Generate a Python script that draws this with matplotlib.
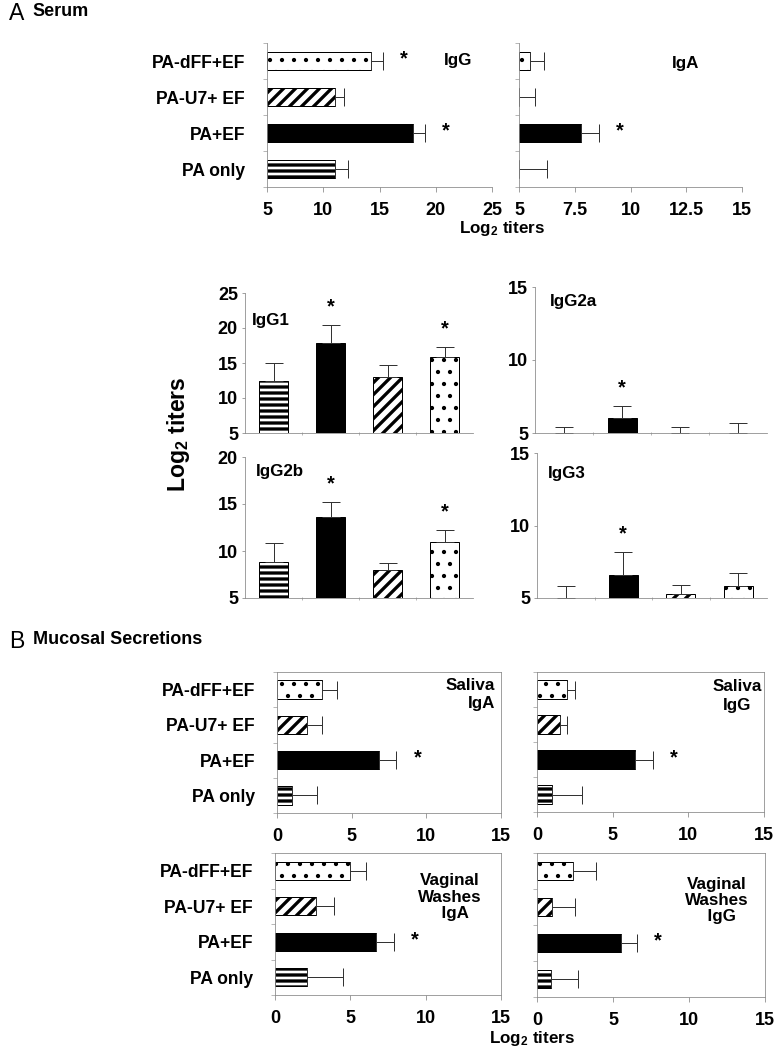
import numpy as np
import matplotlib.pyplot as plt

plt.rcParams['font.family'] = ['Liberation Sans', 'DejaVu Sans']
plt.rcParams['font.weight'] = 'bold'
plt.rcParams['mathtext.fontset'] = 'custom'
plt.rcParams['mathtext.rm'] = 'Liberation Sans:bold'
plt.rcParams['mathtext.default'] = 'rm'
plt.rcParams['hatch.linewidth'] = 3.0

groups = ['PA only', 'PA+EF', 'PA-U7+ EF', 'PA-dFF+EF']

# serum titers (log2), bar value and upper error
serum_igg = [11.0, 18.0, 11.0, 14.2]
serum_igg_err = [1.2, 1.0, 0.8, 1.1]
serum_iga = [5.0, 7.8, 5.0, 5.5]
serum_iga_err = [1.25, 0.8, 0.7, 0.6]

igg1 = [12.5, 17.9, 13.0, 15.9]
igg1_err = [2.5, 2.5, 1.7, 1.4]
igg2a = [5.0, 6.05, 5.0, 5.0]
igg2a_err = [0.4, 0.8, 0.4, 0.7]
igg2b = [8.8, 13.6, 7.95, 11.0]
igg2b_err = [2.1, 1.65, 0.8, 1.2]
igg3 = [5.0, 6.6, 5.3, 5.8]
igg3_err = [0.8, 1.6, 0.6, 0.9]

# mucosal secretions
saliva_iga = [1.0, 6.8, 2.0, 3.0]
saliva_iga_err = [1.7, 1.2, 1.0, 1.0]
saliva_igg = [1.0, 6.5, 1.5, 2.0]
saliva_igg_err = [2.0, 1.15, 0.5, 0.5]
vaginal_iga = [2.1, 6.7, 2.7, 5.0]
vaginal_iga_err = [2.4, 1.2, 1.2, 1.05]
vaginal_igg = [0.9, 5.5, 1.0, 2.4]
vaginal_igg_err = [1.8, 1.05, 1.5, 1.5]

# significance marks
sig_pa_ef = [0, 1, 0, 0]
sig_two = [0, 1, 0, 1]

fills = ['white', 'black', 'white', 'white']
hatches = ['--', '', '//', '.']
spine_col = '#8a8a8a'
err_col = '#333333'


def style_bars(bars):
    for b, fc, h in zip(bars, fills, hatches):
        b.set_facecolor(fc)
        b.set_hatch(h)
        if hasattr(b, 'set_hatch_linewidth'):
            b.set_hatch_linewidth(1.8 if h == '.' else 3.3)


def hpanel(ax, vals, errs, sig, base, top, ticks, ticklabels, show_names, box):
    y = np.arange(len(groups))
    vals = np.array(vals)
    bars = ax.barh(y, vals - base, left=base, height=0.52,
                   edgecolor='black', linewidth=1)
    style_bars(bars)
    ax.errorbar(vals, y, xerr=[np.zeros(4), errs], fmt='none', ecolor=err_col,
                elinewidth=1, capsize=9, capthick=1)
    for i in range(4):
        if sig[i]:
            ax.annotate('*', (vals[i] + errs[i], y[i]), xytext=(21, 2),
                        textcoords='offset points', ha='center', va='center',
                        fontsize=20)
    ax.set_xlim(base, top)
    ax.set_ylim(-0.5, 3.5)
    ax.set_xticks(ticks, ticklabels)
    ax.set_yticks(y, groups if show_names else [''] * 4)
    ax.set_yticks(np.arange(-0.5, 4, 1), minor=True)
    ax.tick_params(axis='y', which='major', length=0, pad=22, labelsize=17.5)
    ax.tick_params(axis='y', which='minor', length=4, color=spine_col)
    ax.tick_params(axis='x', length=5, color=spine_col, pad=10, labelsize=18)
    for s in ax.spines.values():
        s.set_color(spine_col)
    if not box:
        ax.spines['top'].set_visible(False)
        ax.spines['right'].set_visible(False)


def vpanel(ax, vals, errs, sig, base, top, ticks, label, lab_x, lab_y):
    x = np.arange(len(groups))
    vals = np.array(vals)
    bars = ax.bar(x, vals - base, bottom=base, width=0.5,
                  edgecolor='black', linewidth=1)
    style_bars(bars)
    ax.errorbar(x, vals, yerr=[np.zeros(4), errs], fmt='none', ecolor=err_col,
                elinewidth=1, capsize=9, capthick=1)
    for i in range(4):
        if sig[i]:
            ax.annotate('*', (x[i], vals[i] + errs[i]), xytext=(0, 18),
                        textcoords='offset points', ha='center', va='center',
                        fontsize=20)
    ax.set_xlim(-0.5, 3.5)
    ax.set_ylim(base, top)
    ax.set_xticks([])
    ax.set_xticks([0.5, 1.5, 2.5], minor=True)
    ax.set_yticks(ticks)
    ax.tick_params(axis='x', which='minor', length=3, direction='inout', color=spine_col)
    ax.tick_params(axis='y', length=3, color=spine_col, pad=4, labelsize=18)
    ax.spines['top'].set_visible(False)
    ax.spines['right'].set_visible(False)
    for s in ax.spines.values():
        s.set_color(spine_col)
    ax.text(lab_x, lab_y, label, transform=ax.transAxes, fontsize=17,
            ha='left', va='center')


W, H = 776, 1050
fig = plt.figure(figsize=(W / 72, H / 72), dpi=72)


def add_ax(left, right, top, bottom):
    return fig.add_axes([left / W, 1 - bottom / H, (right - left) / W, (bottom - top) / H])


# A: serum
ax = add_ax(267, 492, 43, 187)
hpanel(ax, serum_igg, serum_igg_err, sig_two, 5, 25, [5, 10, 15, 20, 25],
       ['5', '10', '15', '20', '25'], True, False)
ax.text(0.85, 0.88, 'IgG', transform=ax.transAxes, fontsize=17, ha='center', va='center')

ax = add_ax(519, 742, 43, 187)
hpanel(ax, serum_iga, serum_iga_err, sig_pa_ef, 5, 15, [5, 7.5, 10, 12.5, 15],
       ['5', '7.5', '10', '12.5', '15'], False, False)
ax.text(0.745, 0.86, 'IgA', transform=ax.transAxes, fontsize=17, ha='center', va='center')

fig.text(502 / W, 1 - 229 / H, r'Log$_2$ titers', fontsize=17, ha='center', va='center')

ax = add_ax(245, 473, 293, 433)
vpanel(ax, igg1, igg1_err, sig_two, 5, 25, [5, 10, 15, 20, 25], 'IgG1', 0.03, 0.807)
ax = add_ax(535, 767, 287, 433)
vpanel(ax, igg2a, igg2a_err, sig_pa_ef, 5, 15, [5, 10, 15], 'IgG2a', 0.065, 0.9)
ax = add_ax(245, 473, 457, 598)
vpanel(ax, igg2b, igg2b_err, sig_two, 5, 20, [5, 10, 15, 20], 'IgG2b', 0.048, 0.894)
ax = add_ax(537, 767, 453, 598)
vpanel(ax, igg3, igg3_err, sig_pa_ef, 5, 15, [5, 10, 15], 'IgG3', 0.048, 0.862)

fig.text(178 / W, 1 - 434 / H, r'Log$_2$ titers', fontsize=23, rotation=90,
         ha='center', va='center')

# B: mucosal secretions
mt = [0, 5, 10, 15]
mtl = ['0', '5', '10', '15']
ax = add_ax(277, 501, 672, 813)
hpanel(ax, saliva_iga, saliva_iga_err, sig_pa_ef, 0, 15, mt, mtl, True, True)
ax.text(0.975, 0.84, 'Saliva\nIgA', transform=ax.transAxes, fontsize=17,
        ha='right', va='center', multialignment='right', linespacing=1.2)

ax = add_ax(537, 764, 672, 812)
hpanel(ax, saliva_igg, saliva_igg_err, sig_pa_ef, 0, 15, mt, mtl, False, True)
ax.text(0.88, 0.83, 'Saliva\nIgG', transform=ax.transAxes, fontsize=17,
        ha='center', va='center', multialignment='center', linespacing=1.3)

ax = add_ax(275, 501, 853, 995)
hpanel(ax, vaginal_iga, vaginal_iga_err, sig_pa_ef, 0, 15, mt, mtl, True, True)
ax.text(0.775, 0.69, 'Vaginal\nWashes\n  IgA', transform=ax.transAxes, fontsize=17,
        ha='center', va='center', multialignment='center', linespacing=1.1)

ax = add_ax(537, 765, 853, 997)
hpanel(ax, vaginal_igg, vaginal_igg_err, sig_pa_ef, 0, 15, mt, mtl, False, True)
ax.text(0.79, 0.67, 'Vaginal\nWashes\n  IgG', transform=ax.transAxes, fontsize=17,
        ha='center', va='center', multialignment='center', linespacing=1.1)

fig.text(532 / W, 1 - 1039 / H, r'Log$_2$ titers', fontsize=17, ha='center', va='center')

fig.text(9 / W, 1 - 13 / H, 'A', fontsize=23, fontweight='normal', va='center')
fig.text(32 / W, 1 - 12 / H, 'Serum', fontsize=18, va='center')
fig.text(9 / W, 1 - 641 / H, 'B', fontsize=23, fontweight='normal', va='center')
fig.text(33 / W, 1 - 639 / H, 'Mucosal Secretions', fontsize=18, va='center')

fig.savefig('out.png', dpi=72)
